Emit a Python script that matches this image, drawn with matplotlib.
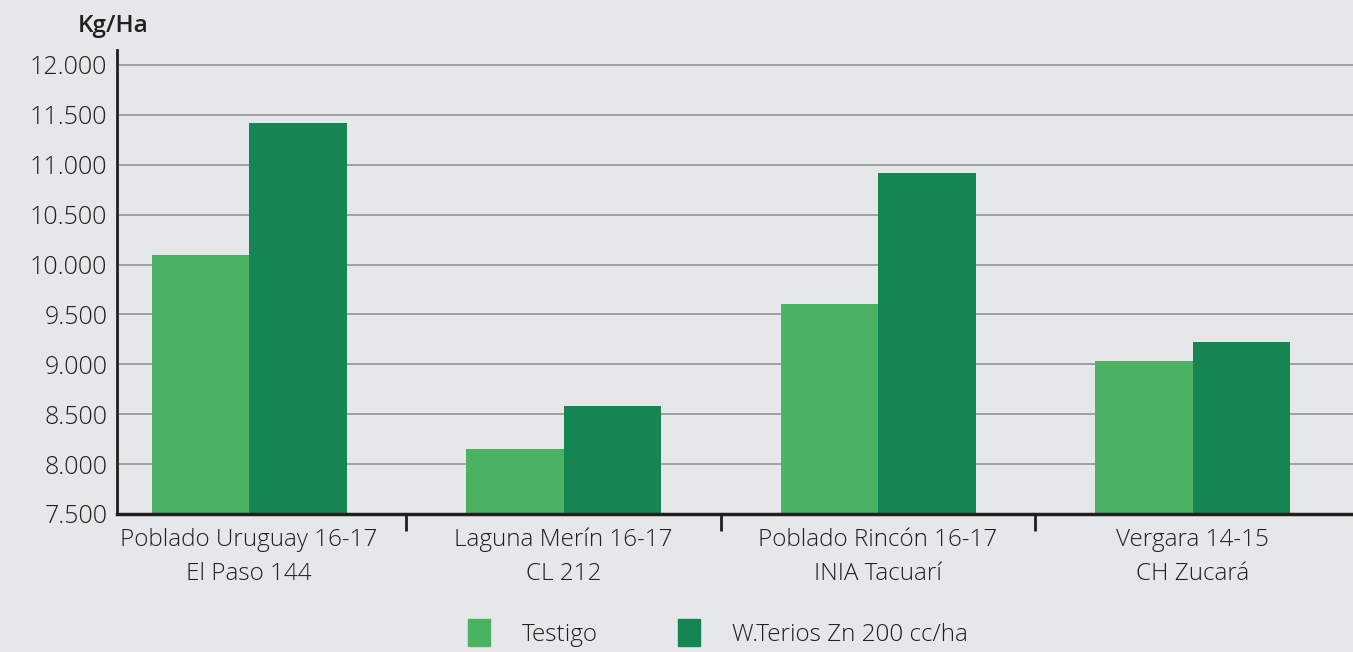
import numpy as np
import matplotlib.pyplot as plt
from matplotlib.patches import Patch
from matplotlib.ticker import FuncFormatter

plt.rcParams['font.family'] = ['Open Sans', 'DejaVu Sans']

# data
categories = ['Poblado Uruguay 16-17\nEl Paso 144',
              'Laguna Merín 16-17\nCL 212',
              'Poblado Rincón 16-17\nINIA Tacuarí',
              'Vergara 14-15\nCH Zucará']
testigo = [10100, 8150, 9600, 9035]
terios = [11420, 8580, 10920, 9225]
series_names = ['Testigo', 'W.Terios Zn 200 cc/ha']
yticks = [7500, 8000, 8500, 9000, 9500, 10000, 10500, 11000, 11500, 12000]

bg = '#e6e7e9'
c_light = '#4bb263'
c_dark = '#158554'
txt = '#231f20'

fig = plt.figure(figsize=(13.53, 6.52), dpi=100, facecolor=bg)
ax = fig.add_axes([117/1353, 138/652, 1 - 117/1353, (514-50)/652])
ax.set_facecolor(bg)

x = np.arange(len(categories))
w = 0.31
ax.bar(x - w/2, np.array(testigo) - 7500, w, bottom=7500, color=c_light, zorder=3)
ax.bar(x + w/2, np.array(terios) - 7500, w, bottom=7500, color=c_dark, zorder=3)

ax.set_xlim(-0.42, 3.51)
ax.set_ylim(7500, 12150)
ax.set_yticks(yticks)
ax.yaxis.set_major_formatter(FuncFormatter(lambda v, p: f'{int(v):,}'.replace(',', '.')))
ax.tick_params(axis='y', length=0, labelsize=18, colors=txt, pad=7)
for lab in ax.get_yticklabels():
    lab.set_fontweight('light')
ax.yaxis.grid(True, color='#9a9a9a', lw=1.3, zorder=1)

ax.set_xticks(x)
ax.set_xticklabels(categories, fontsize=17.5, color=txt, linespacing=1.55,
                   fontweight='light')
ax.tick_params(axis='x', length=0, pad=10)
ax.set_xticks([0.5, 1.5, 2.5], minor=True)
ax.tick_params(axis='x', which='minor', length=12, width=2, color=txt, direction='out')

for s in ['top', 'right']:
    ax.spines[s].set_visible(False)
ax.spines['left'].set_linewidth(2)
ax.spines['left'].set_color(txt)
ax.spines['bottom'].set_linewidth(2.5)
ax.spines['bottom'].set_color(txt)
ax.spines['bottom'].set_zorder(4)

fig.text(78/1353, 1 - 26/652, 'Kg/Ha', fontsize=17.5, fontweight='semibold',
         color=txt, va='center', ha='left')

handles = [Patch(color=c_light), Patch(color=c_dark)]
fig.legend(handles, series_names, loc='center', bbox_to_anchor=(718/1353, 1 - 633/652),
           ncol=2, frameon=False, prop={'size': 17.5, 'weight': 'light'},
           handlelength=0.9, handleheight=1.35,
           columnspacing=3.3, handletextpad=1.3, labelcolor=txt)

fig.savefig('out.png', dpi=100, facecolor=bg)
